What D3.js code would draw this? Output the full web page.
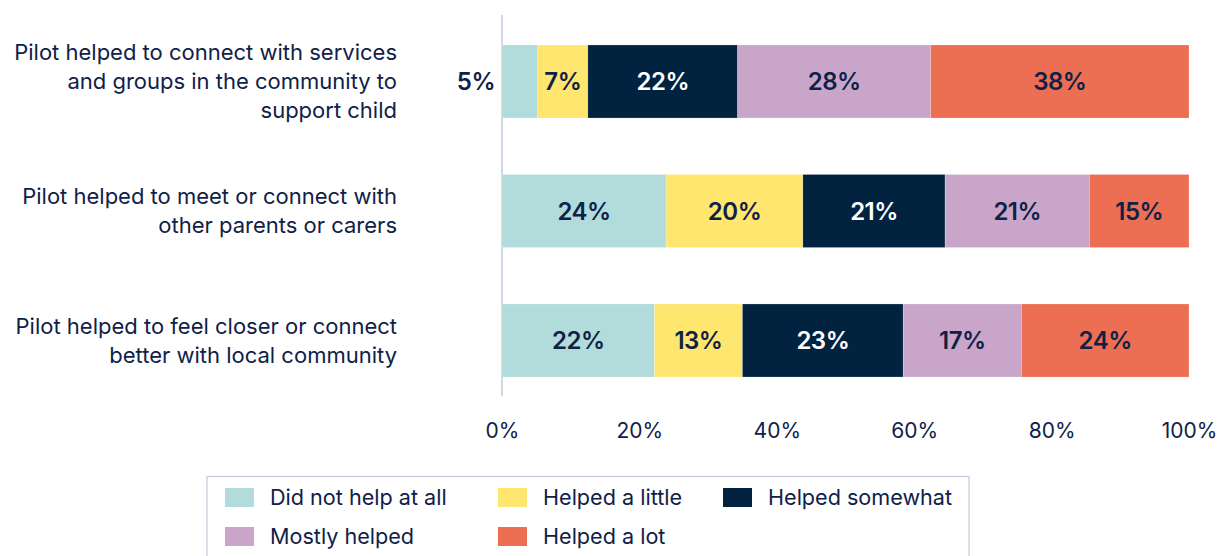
<!DOCTYPE html>
<html>
<head>
<meta charset="utf-8">
<script src="https://cdn.jsdelivr.net/npm/d3@7"></script>
<style>
  html, body { margin: 0; padding: 0; background: #fff; }
  svg { display: block; }
</style>
</head>
<body>
<svg id="chart" width="1221" height="556"></svg>
<script>
// Survey statements (each drawn on up to three lines)
const categories = [
  ["Pilot helped to connect with services", "and groups in the community to", "support child"],
  ["Pilot helped to meet or connect with", "other parents or carers"],
  ["Pilot helped to feel closer or connect", "better with local community"]
];
const seriesNames = ["Did not help at all", "Helped a little", "Helped somewhat", "Mostly helped", "Helped a lot"];
// Percent of respondents per response, one array per statement
const servicesValues  = [5.2, 7.3, 21.8, 28.1, 37.6];
const parentsValues   = [23.9, 19.9, 20.7, 21.0, 14.5];
const communityValues = [22.2, 12.8, 23.4, 17.2, 24.4];
const tickValues = [0, 20, 40, 60, 80, 100];

const colors = ["#b1dcdb", "#fee66f", "#012340", "#c9a6c9", "#ec6e53"];
const labelColors = ["#0f2147", "#0f2147", "#ffffff", "#0f2147", "#0f2147"];
const navy = "#0f2147";
const FONT = "Inter, Roboto, sans-serif";

const rows = [servicesValues, parentsValues, communityValues];
const keys = categories.map(c => c.join(" "));

const svg = d3.select("#chart");

const x = d3.scaleLinear().domain([0, 100]).range([502, 1189]);
const y = d3.scaleBand().domain(keys).range([16.75, 405.25]).paddingInner(0.436).paddingOuter(0.218);

// vertical baseline at 0%
svg.append("line")
  .attr("x1", x(0)).attr("x2", x(0))
  .attr("y1", 15).attr("y2", 396)
  .attr("stroke", "#c6c9dd").attr("stroke-width", 1.5);

// stacked segments with value labels
rows.forEach((vals, i) => {
  const key = keys[i];
  let cum = 0;
  const segs = vals.map((v, j) => {
    const s = { start: cum, end: cum + v, v, j };
    cum += v;
    return s;
  });
  const narrow = d => (x(d.end) - x(d.start)) < 40;
  const g = svg.append("g");
  g.selectAll("rect").data(segs).join("rect")
    .attr("x", d => x(d.start))
    .attr("y", y(key))
    .attr("width", d => x(d.end) - x(d.start))
    .attr("height", y.bandwidth())
    .attr("fill", d => colors[d.j])
    .attr("stroke", "rgba(255,255,255,0.35)")
    .attr("stroke-width", 0.6);

  g.selectAll("text").data(segs).join("text")
    .attr("x", d => narrow(d) ? x(d.start) - 7 : (x(d.start) + x(d.end)) / 2)
    .attr("y", y(key) + y.bandwidth() / 2)
    .attr("dy", "0.36em")
    .attr("text-anchor", d => narrow(d) ? "end" : "middle")
    .attr("font-family", FONT)
    .attr("font-weight", 600)
    .attr("font-size", 24)
    .attr("letter-spacing", -0.5)
    .attr("fill", d => narrow(d) ? navy : labelColors[d.j])
    .text(d => Math.round(d.v) + "%");
});

// category labels
categories.forEach((lines, i) => {
  const cy = y(keys[i]) + y.bandwidth() / 2;
  const lh = 29;
  const t = svg.append("text")
    .attr("text-anchor", "end")
    .attr("font-family", FONT)
    .attr("font-size", 22)
    .attr("fill", navy);
  lines.forEach((ln, k) => {
    t.append("tspan")
      .attr("x", 397)
      .attr("y", cy + (k - (lines.length - 1) / 2) * lh)
      .attr("dy", "0.36em")
      .text(ln);
  });
});

// x axis
const axis = svg.append("g")
  .attr("transform", "translate(0,430)")
  .call(d3.axisBottom(x).tickValues(tickValues).tickSize(0).tickPadding(0).tickFormat(d => d + "%"));
axis.select(".domain").remove();
axis.selectAll("text")
  .attr("dy", "0.36em")
  .attr("font-family", FONT)
  .attr("font-size", 21)
  .attr("fill", navy);

// legend
const legend = svg.append("g");
legend.append("rect")
  .attr("x", 207).attr("y", 476.5)
  .attr("width", 762).attr("height", 100)
  .attr("fill", "#fff")
  .attr("stroke", "#c6c9dd").attr("stroke-width", 1.2);

const legendPos = [
  { x: 225, y: 497.5 }, { x: 498, y: 497.5 }, { x: 723, y: 497.5 },
  { x: 225, y: 536.5 }, { x: 498, y: 536.5 }
];
seriesNames.forEach((name, i) => {
  const p = legendPos[i];
  legend.append("rect")
    .attr("x", p.x).attr("y", p.y - 9.5)
    .attr("width", 29).attr("height", 19)
    .attr("fill", colors[i]);
  legend.append("text")
    .attr("x", p.x + 45).attr("y", p.y)
    .attr("dy", "0.36em")
    .attr("font-family", FONT)
    .attr("font-size", 21.6)
    .attr("fill", navy)
    .text(name);
});
</script>
</body>
</html>
